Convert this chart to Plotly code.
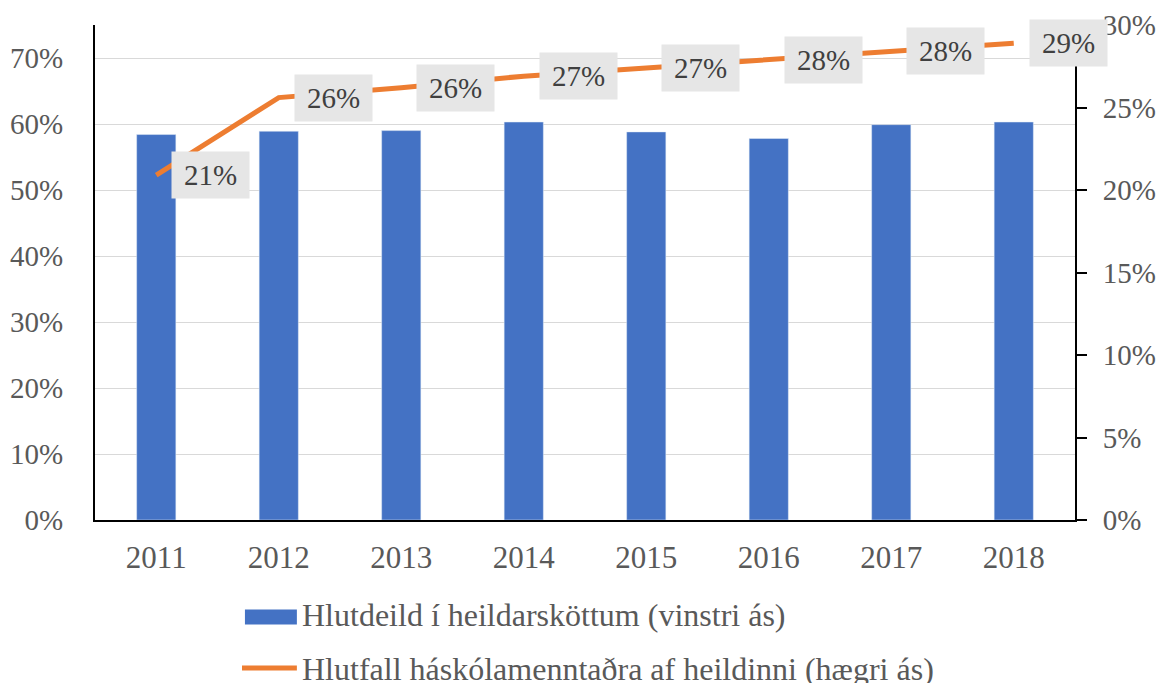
import plotly.graph_objects as go

years = ["2011", "2012", "2013", "2014", "2015", "2016", "2017", "2018"]
share_of_taxes = [0.584, 0.589, 0.590, 0.603, 0.588, 0.578, 0.599, 0.603]
university_share = [0.209, 0.256, 0.262, 0.269, 0.274, 0.279, 0.284, 0.289]
bar_name = "Hlutdeild í heildarsköttum (vinstri ás)"
line_name = "Hlutfall háskólamenntaðra af heildinni (hægri ás)"

FONT = "Liberation Serif, Times New Roman, serif"
BLUE = "#4472C4"
ORANGE = "#ED7D31"
TXT = "#595959"

fig = go.Figure()
fig.add_trace(go.Bar(x=years, y=share_of_taxes, name=bar_name, marker_color=BLUE,
                     yaxis="y", showlegend=False))
fig.add_trace(go.Scatter(x=years, y=university_share, name=line_name, mode="lines",
                         line=dict(color=ORANGE, width=5), yaxis="y2", showlegend=False))

annotations = []
for i, v in enumerate(university_share):
    annotations.append(dict(x=i, y=v, xref="x", yref="y2", text=f"{round(v*100):.0f}%",
                            showarrow=False, xanchor="left", yanchor="middle", xshift=15,
                            width=75, height=44, bgcolor="#e6e6e6",
                            font=dict(family=FONT, size=29, color="#404040")))

# custom legend (text + swatches)
annotations.append(dict(x=0.209, y=-0.192, xref="paper", yref="paper", text=bar_name,
                        showarrow=False, xanchor="left", yanchor="middle",
                        font=dict(family=FONT, size=32, color=TXT)))
annotations.append(dict(x=0.209, y=-0.302, xref="paper", yref="paper", text=line_name,
                        showarrow=False, xanchor="left", yanchor="middle",
                        font=dict(family=FONT, size=32, color=TXT)))
shapes = [
    dict(type="rect", xref="paper", yref="paper", x0=0.153, x1=0.206, y0=-0.181, y1=-0.211,
         fillcolor=BLUE, line=dict(width=0)),
    dict(type="line", xref="paper", yref="paper", x0=0.150, x1=0.206, y0=-0.299, y1=-0.299,
         line=dict(color=ORANGE, width=5)),
]

fig.update_layout(
    width=1161, height=683,
    margin=dict(l=95, r=86, t=25, b=163),
    paper_bgcolor="white", plot_bgcolor="white",
    bargap=0.68,
    font=dict(family=FONT, size=29, color=TXT),
    xaxis=dict(type="category", range=[-0.5, 7.5], showline=True, linecolor="black",
               linewidth=2, ticks="", showgrid=False, ticklabelstandoff=9, automargin=False,
               tickfont=dict(family=FONT, size=31, color=TXT)),
    yaxis=dict(range=[0, 0.75], dtick=0.1, tickformat=".0%", showline=True,
               linecolor="black", linewidth=2, ticks="", showgrid=True,
               gridcolor="#d9d9d9", gridwidth=1.3, zeroline=False, automargin=False,
               ticklabelstandoff=24, tickfont=dict(family=FONT, size=29, color=TXT)),
    yaxis2=dict(range=[0, 0.30], dtick=0.05, tickformat=".0%", overlaying="y", side="right",
                showline=True, linecolor="black", linewidth=2, ticks="outside", ticklen=10,
                tickwidth=2, tickcolor="black", showgrid=False, zeroline=False,
                automargin=False,
                ticklabelstandoff=10, tickfont=dict(family=FONT, size=29, color=TXT)),
    annotations=annotations,
    shapes=shapes,
)

fig.write_html("out.html", config={"displayModeBar": False},
               post_script="document.body.style.margin='0';")
